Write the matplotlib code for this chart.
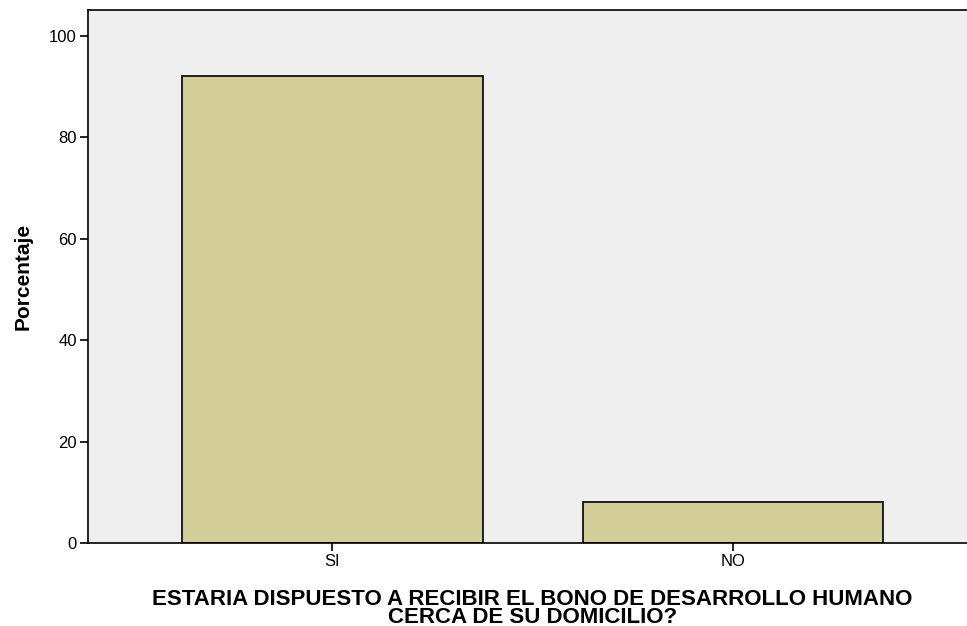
import matplotlib
matplotlib.use('Agg')
import matplotlib.pyplot as plt

# datos
categorias = ['SI', 'NO']
porcentajes = [92.0, 8.0]
yticks = [0, 20, 40, 60, 80, 100]

plt.rcParams['font.family'] = ['Liberation Sans', 'DejaVu Sans']

fig = plt.figure(figsize=(9.67, 6.26), dpi=100)
ax = fig.add_axes([88 / 967, 1 - 543 / 626, 1 - 88 / 967 + 0.01, (543 - 10) / 626])
ax.set_facecolor('#efefef')

ax.bar(range(len(categorias)), porcentajes, width=0.75, color='#d3ce99',
       edgecolor='black', linewidth=1.2, zorder=2)

ax.set_xlim(-0.611, 1.61)
ax.set_ylim(0, 105.1)
ax.set_yticks(yticks)
ax.set_xticks(range(len(categorias)))
ax.set_xticklabels(categorias)
ax.tick_params(axis='both', direction='out', length=6, width=1.2, labelsize=12, pad=2)

for s in ['left', 'bottom', 'top']:
    ax.spines[s].set_color('black')
    ax.spines[s].set_linewidth(1.2)
ax.spines['right'].set_visible(False)

ax.set_ylabel('Porcentaje', fontsize=15, fontweight='bold', labelpad=12)
ax.set_xlabel('ESTARIA DISPUESTO A RECIBIR EL BONO DE DESARROLLO HUMANO\nCERCA DE SU DOMICILIO?',
              fontsize=16, fontweight='bold', linespacing=0.82, labelpad=14)

fig.savefig('out.png', dpi=100)
